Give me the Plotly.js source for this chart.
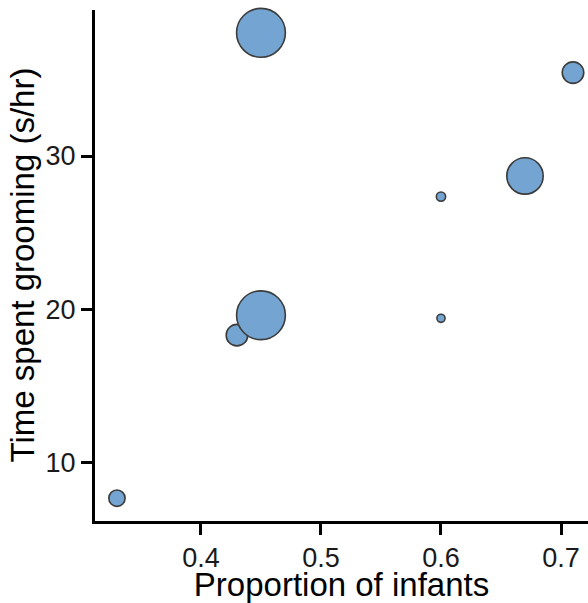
<!DOCTYPE html>
<html>
<head>
<meta charset="utf-8">
<script src="https://cdn.plot.ly/plotly-3.0.1.min.js"></script>
<style>html,body{margin:0;padding:0;background:#fff;}#chart{width:588px;height:603px;}</style>
</head>
<body>
<div id="chart"></div>
<script>
// Data
var proportionInfants = [0.33, 0.43, 0.45, 0.45, 0.71, 0.67, 0.60, 0.60];
var groomingTime      = [7.65, 18.3, 19.6, 38.05, 35.45, 28.7, 27.35, 19.4];
var groupWeight       = [4, 7, 36, 36, 7, 20, 1.3, 1];
var xTickVals = [0.4, 0.5, 0.6, 0.7];
var xTickText = ['0.4', '0.5', '0.6', '0.7'];
var yTickVals = [10, 20, 30];
var yTickText = ['10', '20', '30'];
var xTitle = 'Proportion of infants';
var yTitle = 'Time spent grooming (s/hr)';

var trace = {
  type: 'scatter',
  mode: 'markers',
  x: proportionInfants,
  y: groomingTime,
  cliponaxis: false,
  marker: {
    size: groupWeight,
    sizemode: 'area',
    sizeref: 0.0302,
    opacity: 1,
    color: '#74a5d2',
    line: {color: '#3c3c3c', width: 1.6}
  },
  hoverinfo: 'x+y'
};

var layout = {
  width: 588, height: 603,
  margin: {l: 95, r: 0, t: 10, b: 82},
  paper_bgcolor: '#fff', plot_bgcolor: '#fff',
  showlegend: false,
  font: {family: '"Liberation Sans", Arial, sans-serif', color: '#000'},
  xaxis: {
    range: [0.3117, 0.7225],
    tickvals: xTickVals, ticktext: xTickText,
    ticks: 'outside', ticklen: 11, tickwidth: 3, tickcolor: '#000',
    showline: true, linecolor: '#000', linewidth: 3,
    showgrid: false, zeroline: false,
    tickfont: {size: 27, color: '#1a1a1a'},
    title: {text: xTitle, font: {size: 33, color: '#000'}, standoff: 2}
  },
  yaxis: {
    range: [6.16, 39.54],
    tickvals: yTickVals, ticktext: yTickText,
    ticks: 'outside', ticklen: 11, tickwidth: 3, tickcolor: '#000',
    showline: true, linecolor: '#000', linewidth: 3,
    showgrid: false, zeroline: false,
    tickfont: {size: 27, color: '#1a1a1a'}
  },
  annotations: [{
    text: yTitle, textangle: -90,
    xref: 'paper', yref: 'paper', x: 0, y: 0.5,
    xanchor: 'center', yanchor: 'middle', xshift: -73,
    showarrow: false,
    font: {size: 33, color: '#000'}
  }]
};

Plotly.newPlot('chart', [trace], layout, {displayModeBar: false, staticPlot: true});
</script>
</body>
</html>
